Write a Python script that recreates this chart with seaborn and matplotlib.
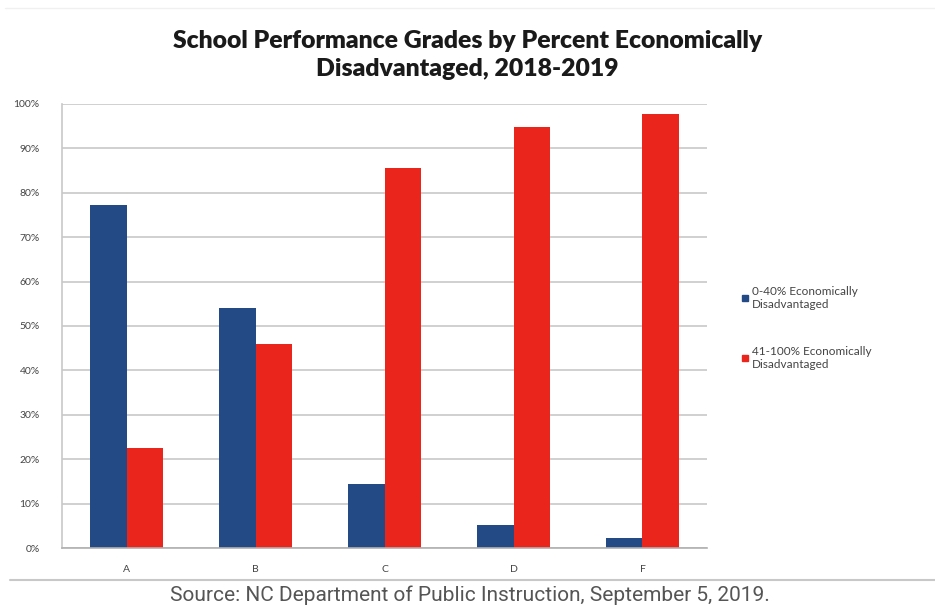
import matplotlib
matplotlib.use("Agg")
import matplotlib.pyplot as plt
import seaborn as sns
import pandas as pd
from matplotlib.lines import Line2D
from matplotlib.ticker import FuncFormatter

grades = ["A", "B", "C", "D", "F"]
low_disadv = [77.3, 54.0, 14.4, 5.1, 2.3]
high_disadv = [22.5, 46.0, 85.6, 94.9, 97.7]
series_names = ["0-40% Economically\nDisadvantaged", "41-100% Economically\nDisadvantaged"]
colors = ["#234a84", "#ea261c"]

df = pd.DataFrame({
    "grade": grades * 2,
    "value": low_disadv + high_disadv,
    "series": [series_names[0]] * len(grades) + [series_names[1]] * len(grades),
})

sns.set_theme(style="white")
plt.rcParams['font.family'] = ['Lato', 'DejaVu Sans']

fig = plt.figure(figsize=(9.35, 6.06), dpi=100)
ax = fig.add_axes([62/935, 1 - 548/606, (707 - 62)/935, (548 - 104)/606])

sns.barplot(data=df, x="grade", y="value", hue="series", palette=colors,
            width=0.56, gap=0, saturation=1, ax=ax, legend=False, linewidth=0)

ax.set_ylim(0, 100)
ax.set_xlim(-0.5, 4.5)
ax.set_yticks(range(0, 101, 10))
ax.yaxis.set_major_formatter(FuncFormatter(lambda v, p: f"{int(v)}%"))
ax.grid(axis="y", color="#c8c8c8", linewidth=1.2)
ax.set_axisbelow(True)
for s in ["top", "right"]:
    ax.spines[s].set_visible(False)
ax.spines["left"].set_color("#c8c8c8")
ax.spines["bottom"].set_color("#b0b0b0")
ax.spines["left"].set_linewidth(1.2)
ax.spines["bottom"].set_linewidth(1.2)
ax.tick_params(axis="y", length=0, pad=16, labelsize=7.5, labelcolor="#444444")
ax.tick_params(axis="x", length=0, pad=12, labelsize=7.5, labelcolor="#444444")
ax.set_xlabel("")
ax.set_ylabel("")

fig.text(0.5, 1 - 55/606, "School Performance Grades by Percent Economically\nDisadvantaged, 2018-2019",
         ha="center", va="center", fontsize=17.8, fontweight="heavy", color="#1a1a1a",
         linespacing=1.3)

handles = [Line2D([0], [0], marker="s", linestyle="none", markersize=5,
                  markerfacecolor=c, markeredgecolor=c) for c in colors]
fig.legend(handles, series_names, loc="upper left", bbox_to_anchor=(737/935, 1 - 281/606),
           frameon=False, fontsize=8.5, labelspacing=3.1, handlelength=0.6,
           handletextpad=0.3, labelcolor="#444444", borderaxespad=0)

# horizontal rules
fig.add_artist(Line2D([10/935, 1], [1 - 580/606] * 2, color="#c8c8c8", linewidth=1.5,
                      transform=fig.transFigure))
fig.add_artist(Line2D([5/935, 1], [1 - 8/606] * 2, color="#f0f0f0", linewidth=1.0,
                      transform=fig.transFigure))

fig.text(470/935, 1 - 595/606, "Source: NC Department of Public Instruction, September 5, 2019.",
         ha="center", va="center", fontsize=15.0, color="#555555", family=["Roboto", "DejaVu Sans"])

fig.savefig("out.png", dpi=100, facecolor="white")
